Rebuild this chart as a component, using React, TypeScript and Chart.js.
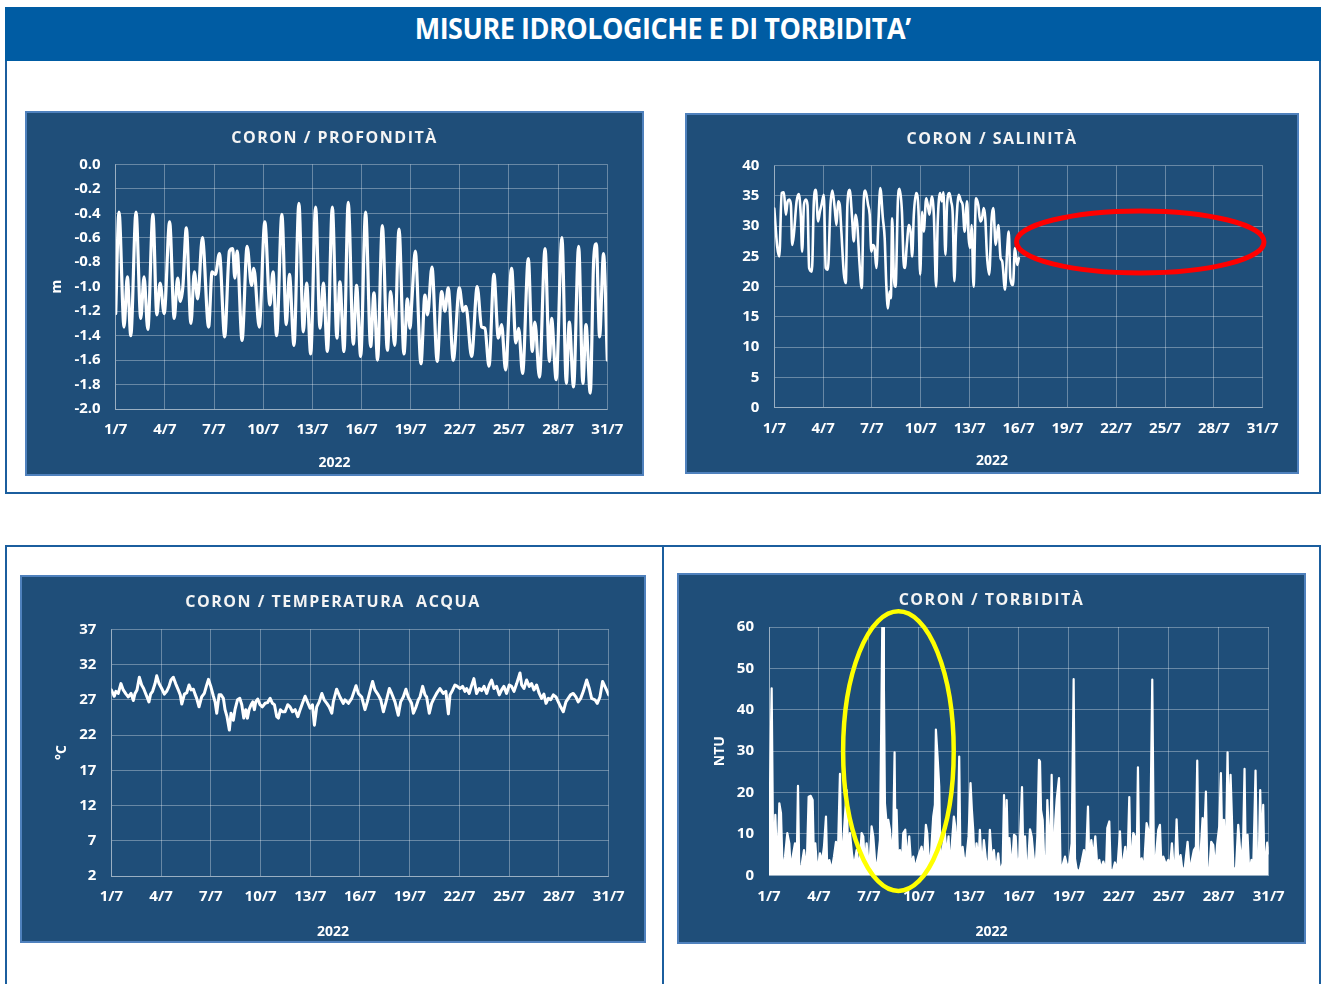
import React, { useEffect, useRef } from 'react';
import { Chart, registerables } from 'chart.js';

Chart.register(...registerables);

// ---------- shared axis data ----------
const xTickDays = [0, 3, 6, 9, 12, 15, 18, 21, 24, 27, 30];
const xTickLabels = ['1/7', '4/7', '7/7', '10/7', '13/7', '16/7', '19/7', '22/7', '25/7', '28/7', '31/7'];
const xAxisTitle = '2022';

const depthTicks = [-2.0, -1.8, -1.6, -1.4, -1.2, -1.0, -0.8, -0.6, -0.4, -0.2, 0.0];
const salinityTicks = [0, 5, 10, 15, 20, 25, 30, 35, 40];
const temperatureTicks = [2, 7, 12, 17, 22, 27, 32, 37];
const turbidityTicks = [0, 10, 20, 30, 40, 50, 60];

// ---------- CORON / PROFONDITÀ (m) ----------
const depthDays = [
  0, 0.2, 0.51, 0.71, 0.92, 1.24, 1.53, 1.73, 1.96, 2.27,
  2.51, 2.71, 2.96, 3.29, 3.57, 3.78, 3.94, 4.1, 4.31, 4.59,
  4.8, 5.0, 5.29, 5.67, 5.88, 6.08, 6.33, 6.65, 6.94, 7.14,
  7.27, 7.41, 7.71, 8.02, 8.29, 8.43, 8.76, 9.1, 9.41, 9.6,
  9.82, 10.14, 10.41, 10.6, 10.88, 11.18, 11.45, 11.65, 11.9, 12.2,
  12.47, 12.67, 12.92, 13.22, 13.5, 13.68, 13.93, 14.19, 14.5, 14.7,
  14.95, 15.25, 15.56, 15.76, 15.98, 16.27, 16.58, 16.78, 17.02, 17.29,
  17.59, 17.8, 17.96, 18.08, 18.28, 18.63, 18.87, 19.03, 19.3, 19.62,
  19.89, 20.09, 20.29, 20.6, 20.97, 21.2, 21.37, 21.72, 22.06, 22.33,
  22.53, 22.78, 23.08, 23.35, 23.55, 23.79, 24.16, 24.42, 24.59, 24.83,
  25.18, 25.42, 25.58, 25.86, 26.2, 26.47, 26.6, 26.88, 27.23, 27.5,
  27.68, 27.94, 28.25, 28.51, 28.7, 28.96, 29.17, 29.33, 29.53, 29.77, 30.0,
];
const depthValues = [
  -1.22, -0.39, -1.33, -0.92, -1.40, -0.39, -1.26, -0.92, -1.35, -0.41,
  -1.23, -0.97, -1.22, -0.47, -1.26, -0.93, -1.12, -1.0, -0.52, -1.30,
  -0.88, -1.10, -0.60, -1.33, -0.88, -0.90, -0.73, -1.41, -0.71, -0.69,
  -0.93, -0.71, -1.44, -0.67, -0.99, -0.85, -1.33, -0.47, -1.15, -0.88,
  -1.40, -0.41, -1.31, -0.90, -1.48, -0.32, -1.37, -0.97, -1.55, -0.35,
  -1.34, -0.97, -1.53, -0.35, -1.42, -0.96, -1.53, -0.31, -1.47, -0.99,
  -1.57, -0.39, -1.49, -1.05, -1.60, -0.50, -1.52, -1.04, -1.48, -0.53,
  -1.55, -1.10, -1.34, -1.10, -0.71, -1.63, -1.07, -1.23, -0.84, -1.61,
  -1.04, -1.20, -1.01, -1.60, -1.01, -1.20, -1.16, -1.57, -1.0, -1.33,
  -1.34, -1.65, -0.90, -1.42, -1.31, -1.68, -0.85, -1.46, -1.34, -1.71,
  -0.77, -1.53, -1.29, -1.74, -0.69, -1.61, -1.26, -1.76, -0.60, -1.79,
  -1.29, -1.82, -0.67, -1.79, -1.31, -1.87, -0.78, -0.65, -1.41, -0.73, -1.60,
];

// ---------- CORON / SALINITÀ ----------
const salinityDays = [
  0, 0.18, 0.31, 0.45, 0.59, 0.71, 0.82, 0.92, 1.02, 1.1,
  1.2, 1.37, 1.51, 1.63, 1.71, 1.82, 1.94, 2.04, 2.14, 2.31,
  2.43, 2.55, 2.69, 2.8, 2.9, 3.04, 3.16, 3.29, 3.45, 3.57,
  3.71, 3.82, 3.92, 4.02, 4.12, 4.27, 4.39, 4.49, 4.63, 4.78,
  4.88, 5.0, 5.1, 5.24, 5.37, 5.49, 5.59, 5.76, 5.86, 5.96,
  6.06, 6.16, 6.27, 6.39, 6.51, 6.67, 6.78, 6.88, 6.98, 7.08,
  7.16, 7.24, 7.35, 7.45, 7.59, 7.69, 7.84, 7.94, 8.02, 8.14,
  8.27, 8.37, 8.47, 8.57, 8.71, 8.86, 8.96, 9.08, 9.18, 9.33,
  9.43, 9.53, 9.67, 9.8, 9.94, 10.04, 10.18, 10.29, 10.39, 10.51,
  10.61, 10.76, 10.86, 10.96, 11.06, 11.16, 11.33, 11.47, 11.57, 11.69,
  11.84, 11.94, 12.04, 12.12, 12.24, 12.39, 12.53, 12.65, 12.76, 12.86,
  12.96, 13.06, 13.2, 13.35, 13.45, 13.6, 13.76, 13.9, 14.0, 14.17,
  14.31, 14.4, 14.5, 14.66, 14.78, 14.92, 15.02,
];
const salinityValues = [
  32.9, 26.6, 25.0, 35.5, 35.6, 31.9, 34.1, 34.4, 33.5, 26.9,
  28.6, 34.1, 35.3, 31.6, 25.8, 33.5, 34.4, 33.5, 23.1, 22.5,
  34.1, 36.0, 30.8, 32.4, 33.5, 35.2, 23.1, 22.8, 33.5, 35.9,
  33.0, 30.2, 34.1, 33.5, 29.1, 22.2, 20.6, 33.5, 36.0, 31.3,
  27.5, 31.9, 30.2, 23.6, 19.8, 34.1, 35.9, 33.5, 31.9, 25.8,
  26.9, 26.4, 23.1, 30.2, 36.3, 31.3, 28.0, 20.3, 16.4, 19.2,
  18.1, 31.3, 21.4, 20.0, 34.1, 36.2, 32.4, 24.2, 23.1, 26.9,
  30.2, 29.1, 25.0, 31.9, 35.5, 32.4, 22.0, 32.4, 29.1, 34.6,
  33.5, 31.9, 34.9, 31.9, 20.0, 30.8, 35.5, 34.1, 35.6, 25.3,
  33.5, 35.5, 34.1, 31.9, 20.9, 29.1, 35.2, 34.1, 33.5, 29.1,
  34.1, 28.0, 26.4, 30.2, 20.0, 34.6, 33.5, 30.8, 31.3, 33.0,
  31.3, 25.3, 22.0, 31.3, 33.0, 26.9, 30.2, 24.7, 24.2, 19.5,
  26.4, 29.1, 21.4, 20.3, 26.4, 23.6, 24.7,
];
// highlighted gap in salinity record (data units: day, PSU)
const salinityGapMark = { day: 22.48, value: 27.4, halfDays: 7.6, halfValue: 5.13 };

// ---------- CORON / TEMPERATURA ACQUA (°C) ----------
const temperatureDays = [
  0, 0.18, 0.28, 0.42, 0.58, 0.72, 0.89, 1.03, 1.19, 1.33,
  1.43, 1.55, 1.69, 1.83, 1.95, 2.07, 2.19, 2.27, 2.37, 2.49,
  2.64, 2.74, 2.88, 3.04, 3.2, 3.34, 3.48, 3.6, 3.74, 3.88,
  4.04, 4.16, 4.25, 4.41, 4.55, 4.69, 4.81, 4.95, 5.05, 5.15,
  5.29, 5.45, 5.61, 5.73, 5.86, 6.0, 6.16, 6.26, 6.36, 6.5,
  6.62, 6.76, 6.86, 6.98, 7.12, 7.22, 7.36, 7.46, 7.61, 7.75,
  7.87, 7.99, 8.11, 8.21, 8.31, 8.43, 8.53, 8.63, 8.71, 8.83,
  8.97, 9.11, 9.28, 9.42, 9.58, 9.72, 9.84, 9.98, 10.08, 10.2,
  10.32, 10.48, 10.64, 10.78, 10.93, 11.09, 11.25, 11.39, 11.53, 11.69,
  11.83, 11.99, 12.13, 12.25, 12.39, 12.54, 12.7, 12.84, 13.0, 13.14,
  13.3, 13.39, 13.59, 13.79, 13.99, 14.09, 14.3, 14.5, 14.76, 14.9,
  15.1, 15.3, 15.44, 15.6, 15.76, 15.9, 16.1, 16.25, 16.41, 16.57,
  16.77, 16.91, 17.11, 17.31, 17.45, 17.61, 17.77, 17.91, 18.11, 18.22,
  18.38, 18.52, 18.62, 18.78, 18.92, 19.02, 19.18, 19.32, 19.46, 19.62,
  19.82, 20.02, 20.18, 20.33, 20.43, 20.59, 20.73, 20.87, 21.03, 21.19,
  21.33, 21.43, 21.59, 21.73, 21.87, 22.03, 22.19, 22.34, 22.48, 22.64,
  22.8, 22.94, 23.08, 23.24, 23.4, 23.54, 23.68, 23.84, 24.0, 24.14,
  24.29, 24.45, 24.65, 24.75, 24.89, 25.05, 25.21, 25.35, 25.49, 25.65,
  25.81, 25.95, 26.09, 26.22, 26.36, 26.5, 26.66, 26.82, 26.96, 27.1,
  27.26, 27.42, 27.56, 27.7, 27.86, 28.02, 28.16, 28.31, 28.47, 28.67,
  28.83, 28.97, 29.17, 29.31, 29.47, 29.63, 29.77, 29.91, 30.0,
];
const temperatureValues = [
  28.4, 27.5, 28.2, 27.9, 29.3, 28.4, 27.8, 27.4, 27.9, 26.9,
  27.9, 28.4, 30.2, 29.1, 28.6, 27.9, 27.2, 26.7, 27.8, 28.2,
  29.3, 30.4, 29.3, 28.6, 27.8, 28.2, 28.9, 29.8, 30.2, 29.3,
  28.4, 27.7, 26.4, 27.8, 28.0, 29.1, 28.4, 28.5, 27.8, 27.2,
  26.0, 27.4, 27.9, 28.9, 29.9, 28.9, 27.5, 26.7, 25.1, 27.7,
  27.7, 27.2, 25.6, 24.6, 22.7, 25.1, 24.1, 25.6, 27.0, 27.2,
  26.3, 24.4, 25.6, 24.4, 25.6, 26.3, 26.7, 25.6, 26.7, 27.1,
  26.3, 26.0, 26.5, 26.6, 27.2, 26.5, 26.3, 24.6, 24.4, 25.6,
  25.3, 25.3, 26.3, 26.0, 25.3, 25.6, 24.6, 25.6, 26.5, 27.5,
  26.7, 25.8, 26.3, 23.4, 26.0, 26.7, 27.9, 27.0, 26.5, 26.0,
  25.1, 26.7, 28.5, 27.4, 26.5, 27.0, 26.5, 27.2, 29.0, 27.9,
  27.4, 25.6, 26.7, 28.2, 29.6, 28.4, 27.7, 27.0, 25.3, 26.7,
  28.6, 27.9, 26.7, 24.8, 26.7, 27.4, 28.5, 27.4, 26.5, 25.1,
  26.0, 27.0, 27.4, 28.9, 27.7, 27.4, 25.1, 26.5, 27.2, 27.9,
  28.6, 27.9, 28.2, 25.0, 27.7, 28.4, 29.1, 28.9, 28.6, 28.9,
  28.2, 28.6, 27.9, 29.0, 30.0, 27.9, 28.6, 28.3, 28.9, 27.9,
  29.1, 29.8, 28.6, 28.9, 27.7, 28.4, 28.9, 27.9, 29.1, 28.9,
  28.2, 29.3, 30.8, 29.1, 28.6, 29.8, 28.9, 29.3, 28.4, 29.1,
  27.9, 27.2, 27.8, 26.5, 27.2, 27.0, 27.7, 27.4, 26.7, 26.0,
  25.3, 26.7, 27.2, 27.7, 27.9, 27.4, 26.7, 27.2, 28.2, 29.8,
  28.6, 27.2, 27.0, 26.5, 27.4, 29.6, 28.9, 28.2, 27.7,
];

// ---------- CORON / TORBIDITÀ (NTU) ----------
const turbidityDays = [
  0, 0.16, 0.26, 0.38, 0.5, 0.62, 0.72, 0.82, 0.96, 1.1,
  1.22, 1.3, 1.42, 1.56, 1.66, 1.74, 1.82, 1.96, 2.1, 2.26,
  2.38, 2.5, 2.62, 2.7, 2.78, 2.9, 3.06, 3.18, 3.3, 3.42,
  3.5, 3.62, 3.76, 3.9, 4.02, 4.12, 4.26, 4.36, 4.46, 4.66,
  4.76, 4.86, 4.98, 5.1, 5.26, 5.42, 5.56, 5.66, 5.76, 5.86,
  6.02, 6.16, 6.26, 6.36, 6.46, 6.56, 6.66, 6.74, 6.8, 6.86,
  6.9, 6.96, 7.06, 7.16, 7.26, 7.36, 7.46, 7.54, 7.6, 7.66,
  7.74, 7.86, 7.98, 8.06, 8.18, 8.3, 8.42, 8.54, 8.66, 8.78,
  8.9, 9.02, 9.16, 9.3, 9.42, 9.5, 9.62, 9.74, 9.86, 9.96,
  10.02, 10.12, 10.22, 10.3, 10.42, 10.56, 10.66, 10.78, 10.86, 10.98,
  11.1, 11.18, 11.3, 11.42, 11.5, 11.62, 11.74, 11.86, 11.98, 12.1,
  12.18, 12.26, 12.36, 12.46, 12.58, 12.66, 12.78, 12.9, 13.02, 13.16,
  13.26, 13.38, 13.5, 13.62, 13.76, 13.87, 14.03, 14.11, 14.19, 14.27,
  14.37, 14.43, 14.57, 14.71, 14.81, 14.91, 15.03, 15.19, 15.27, 15.37,
  15.47, 15.57, 15.67, 15.77, 15.87, 15.99, 16.11, 16.21, 16.27, 16.33,
  16.43, 16.51, 16.63, 16.71, 16.79, 16.87, 16.97, 17.07, 17.19, 17.27,
  17.41, 17.51, 17.63, 17.77, 17.91, 18.03, 18.17, 18.29, 18.37, 18.47,
  18.63, 18.77, 18.91, 19.01, 19.15, 19.23, 19.35, 19.47, 19.59, 19.71,
  19.83, 19.93, 20.07, 20.23, 20.31, 20.43, 20.51, 20.63, 20.77, 20.91,
  21.07, 21.17, 21.27, 21.39, 21.51, 21.63, 21.71, 21.87, 21.97, 22.07,
  22.15, 22.23, 22.37, 22.51, 22.67, 22.77, 22.87, 23.01, 23.11, 23.23,
  23.37, 23.47, 23.57, 23.67, 23.83, 23.97, 24.07, 24.19, 24.27, 24.37,
  24.47, 24.57, 24.71, 24.83, 24.97, 25.13, 25.27, 25.39, 25.51, 25.63,
  25.71, 25.79, 25.91, 26.03, 26.13, 26.23, 26.31, 26.43, 26.55, 26.67,
  26.79, 26.91, 27.03, 27.13, 27.21, 27.31, 27.41, 27.53, 27.61, 27.71,
  27.79, 27.87, 28.03, 28.17, 28.27, 28.37, 28.47, 28.55, 28.63, 28.73,
  28.83, 28.97, 29.07, 29.21, 29.29, 29.39, 29.49, 29.57, 29.67, 29.75,
  29.83, 29.91, 30.0,
];
const turbidityValues = [
  6.1, 45.2, 0.5, 14.6, 1.5, 17.4, 15.0, 0.8, 4.5, 10.2,
  7.7, 1.5, 4.5, 7.7, 1.8, 21.6, 0.6, 2.5, 6.1, 1.2,
  19.0, 19.2, 18.2, 3.0, 7.7, 0.8, 5.3, 3.2, 6.9, 14.2,
  0.8, 3.7, 1.2, 4.5, 8.1, 2.5, 24.5, 1.0, 8.1, 20.6,
  3.0, 10.2, 5.3, 2.0, 6.1, 1.5, 10.2, 9.4, 2.5, 7.7,
  1.2, 11.8, 9.4, 4.0, 0.8, 4.5, 8.5, 36.8, 60, 60,
  44.8, 17.4, 12.6, 13.4, 11.0, 4.5, 10.2, 29.7, 3.7, 15.8,
  4.5, 6.1, 2.9, 10.2, 11.0, 3.0, 9.4, 2.0, 4.5, 1.5,
  3.7, 5.3, 6.9, 3.0, 12.2, 10.2, 1.5, 6.1, 14.2, 17.0,
  35.2, 28.7, 21.5, 2.0, 6.1, 10.2, 4.5, 9.4, 1.5, 7.7,
  14.2, 11.8, 3.5, 28.7, 1.0, 6.9, 3.0, 4.5, 9.4, 22.3,
  15.8, 11.0, 1.5, 7.7, 3.0, 11.0, 0.8, 8.5, 4.0, 1.2,
  11.0, 3.5, 6.1, 1.0, 5.3, 0.8, 2.9, 19.4, 3.0, 18.2,
  1.0, 9.0, 1.2, 9.8, 9.4, 1.5, 4.5, 21.3, 4.0, 9.4,
  0.8, 3.7, 11.1, 9.4, 5.0, 0.8, 9.4, 27.9, 27.5, 15.8,
  13.4, 5.0, 0.8, 18.2, 11.0, 4.0, 24.3, 1.0, 13.4, 18.2,
  23.5, 0.5, 2.5, 4.5, 2.0, 2.9, 7.7, 47.4, 4.0, 1.5,
  0.8, 3.3, 6.1, 1.2, 16.6, 3.0, 8.5, 4.0, 9.4, 2.0,
  3.7, 1.5, 3.3, 1.0, 11.4, 13.0, 1.5, 0.8, 3.1, 1.2,
  10.6, 1.0, 3.7, 6.9, 0.8, 18.9, 1.0, 10.2, 9.4, 2.0,
  26.1, 3.0, 4.1, 1.5, 12.6, 11.0, 3.5, 47.3, 2.5, 4.5,
  11.0, 12.2, 0.8, 4.5, 2.5, 3.7, 1.5, 7.7, 3.0, 0.8,
  13.5, 3.0, 4.9, 0.8, 2.1, 8.1, 0.8, 3.7, 6.1, 6.9,
  27.7, 3.5, 5.3, 13.8, 9.4, 20.2, 2.0, 1.0, 8.1, 7.3,
  1.5, 7.7, 11.8, 24.7, 7.7, 13.4, 1.0, 29.7, 9.4, 24.3,
  14.2, 2.0, 1.0, 12.2, 6.9, 2.5, 9.4, 25.7, 1.0, 9.8,
  0.8, 3.7, 1.5, 25.3, 4.5, 1.0, 20.6, 5.3, 17.0, 0.8,
  4.5, 7.9, 5.3,
];
// highlighted turbidity event (data units: day, NTU)
const turbidityEventMark = { day: 7.77, value: 30.0, halfDays: 3.32, halfValue: 33.8 };

// ---------- styling ----------
const FONT = '"Open Sans", "DejaVu Sans", sans-serif';
const PANEL_BG = '#1f4e79';
const PANEL_EDGE = '#4f81bd';
const GRID = 'rgba(255,255,255,0.33)';
const TEXT = '#ffffff';
const FRAME = '#1b5e9e';

const ellipsePlugin = {
  id: 'ellipseMark',
  afterDatasetsDraw(chart: any, _args: any, opts: any) {
    if (!opts || opts.mark == null) return;
    const m = opts.mark;
    const xs = chart.scales.x;
    const ys = chart.scales.y;
    const cx = xs.getPixelForValue(m.day);
    const cy = ys.getPixelForValue(m.value);
    const rx = Math.abs(xs.getPixelForValue(m.day + m.halfDays) - cx);
    const ry = Math.abs(ys.getPixelForValue(m.value + m.halfValue) - cy);
    const ctx = chart.ctx;
    ctx.save();
    ctx.beginPath();
    ctx.ellipse(cx, cy, rx, ry, 0, 0, Math.PI * 2);
    ctx.strokeStyle = opts.color;
    ctx.lineWidth = opts.width;
    ctx.stroke();
    ctx.restore();
  },
};

type Spec = {
  left: number; top: number; width: number; height: number;
  title: string; titleY: number; xTitleY: number;
  plot: { left: number; right: number; top: number; bottom: number };
  days: number[]; values: number[];
  yTicks: number[]; yMin: number; yMax: number; yFmt: (v: number) => string;
  yTitle?: string; yTitleX?: number;
  lineWidth: number; smooth: boolean; fill?: boolean;
  mark?: any; markColor?: string; markWidth?: number;
};

function buildConfig(s: Spec): any {
  const tickFont = { family: FONT, size: 15, weight: 'bold' as const };
  const titleFont = { family: FONT, size: 14, weight: 'bold' as const };
  const half = (14 * 1.2) / 2;
  return {
    type: 'line',
    data: {
      datasets: [
        {
          data: s.days.map((d, i) => ({ x: d, y: s.values[i] })),
          borderColor: '#ffffff',
          backgroundColor: '#ffffff',
          borderWidth: s.lineWidth,
          pointRadius: 0,
          fill: s.fill ? 'origin' : false,
          tension: 0,
          cubicInterpolationMode: s.smooth ? 'monotone' : 'default',
          borderJoinStyle: 'round',
          borderCapStyle: 'round',
        },
      ],
    },
    options: {
      responsive: false,
      animation: false,
      events: [],
      layout: { padding: { left: 0, right: s.plot.right, top: s.plot.top, bottom: 0 } },
      plugins: {
        legend: { display: false },
        tooltip: { enabled: false },
        title: { display: false },
        filler: { propagate: false },
        ellipseMark: s.mark ? { mark: s.mark, color: s.markColor, width: s.markWidth } : { mark: null },
      },
      scales: {
        x: {
          type: 'linear',
          min: 0,
          max: 30,
          afterBuildTicks: (axis: any) => {
            axis.ticks = xTickDays.map((v) => ({ value: v }));
          },
          afterFit: (axis: any) => {
            axis.height = s.plot.bottom;
          },
          ticks: {
            autoSkip: false,
            maxRotation: 0,
            minRotation: 0,
            padding: 12,
            color: TEXT,
            font: tickFont,
            callback: (_v: any, i: number) => xTickLabels[i],
          },
          grid: { color: GRID, lineWidth: 1, drawTicks: false },
          border: { color: GRID },
          title: { display: false },
        },
        y: {
          type: 'linear',
          min: s.yMin,
          max: s.yMax,
          afterBuildTicks: (axis: any) => {
            axis.ticks = s.yTicks.map((v) => ({ value: v }));
          },
          afterFit: (axis: any) => {
            axis.width = s.plot.left;
          },
          ticks: {
            padding: 15,
            color: TEXT,
            font: tickFont,
            callback: (v: any) => s.yFmt(Number(v)),
          },
          grid: { color: GRID, lineWidth: 1, drawTicks: false },
          border: { color: GRID },
          title: s.yTitle
            ? {
                display: true,
                text: s.yTitle,
                color: TEXT,
                font: titleFont,
                padding: { top: (s.yTitleX || 30) - half, bottom: 0 },
              }
            : { display: false },
        },
      },
    },
    plugins: [ellipsePlugin],
  };
}

function ChartPanel({ spec }: { spec: Spec }) {
  const ref = useRef<HTMLCanvasElement>(null);
  useEffect(() => {
    if (!ref.current) return;
    const chart = new Chart(ref.current, buildConfig(spec));
    return () => chart.destroy();
  }, [spec]);
  return (
    <div
      style={{
        position: 'absolute',
        left: spec.left,
        top: spec.top,
        width: spec.width,
        height: spec.height,
        background: PANEL_BG,
        boxShadow: `inset 0 0 0 2px ${PANEL_EDGE}`,
      }}
    >
      <canvas
        ref={ref}
        width={spec.width}
        height={spec.height}
        style={{ position: 'absolute', left: 0, top: 0, width: spec.width, height: spec.height }}
      />
      <div
        style={{
          position: 'absolute',
          left: 0,
          width: spec.width,
          top: spec.titleY - 12,
          height: 24,
          lineHeight: '24px',
          textAlign: 'center',
          color: '#f4f4f4',
          fontFamily: FONT,
          fontWeight: 700,
          fontSize: 16,
          letterSpacing: '1.5px',
          whiteSpace: 'pre',
        }}
      >
        {spec.title}
      </div>
      <div
        style={{
          position: 'absolute',
          left: 0,
          width: spec.width,
          top: spec.xTitleY - 10,
          height: 20,
          lineHeight: '20px',
          textAlign: 'center',
          color: TEXT,
          fontFamily: FONT,
          fontWeight: 700,
          fontSize: 14,
        }}
      >
        {xAxisTitle}
      </div>
    </div>
  );
}

const specs: Spec[] = [
  {
    left: 25, top: 111, width: 619, height: 365,
    title: 'CORON / PROFONDITÀ', titleY: 26, xTitleY: 351,
    plot: { left: 90.7, right: 36.7, top: 53.3, bottom: 67 },
    days: depthDays, values: depthValues,
    yTicks: depthTicks, yMin: -2, yMax: 0, yFmt: (v) => (Math.abs(v) < 1e-9 ? '0.0' : v.toFixed(1)),
    yTitle: 'm', yTitleX: 32,
    lineWidth: 3.2, smooth: true,
  },
  {
    left: 685, top: 113, width: 614, height: 361,
    title: 'CORON / SALINITÀ', titleY: 25, xTitleY: 347,
    plot: { left: 89.3, right: 36.3, top: 52.7, bottom: 66.3 },
    days: salinityDays, values: salinityValues,
    yTicks: salinityTicks, yMin: 0, yMax: 40, yFmt: (v) => String(v),
    lineWidth: 2.6, smooth: true,
    mark: salinityGapMark, markColor: '#ff0000', markWidth: 5,
  },
  {
    left: 20, top: 575, width: 626, height: 368,
    title: 'CORON / TEMPERATURA  ACQUA', titleY: 26, xTitleY: 356,
    plot: { left: 91.3, right: 37.3, top: 54.3, bottom: 67 },
    days: temperatureDays, values: temperatureValues,
    yTicks: temperatureTicks, yMin: 2, yMax: 37, yFmt: (v) => String(v),
    yTitle: '°C', yTitleX: 42,
    lineWidth: 3, smooth: false,
  },
  {
    left: 677, top: 573, width: 629, height: 371,
    title: 'CORON / TORBIDITÀ', titleY: 26, xTitleY: 358,
    plot: { left: 92, right: 37.3, top: 54, bottom: 68.7 },
    days: turbidityDays, values: turbidityValues,
    yTicks: turbidityTicks, yMin: 0, yMax: 60, yFmt: (v) => String(v),
    yTitle: 'NTU', yTitleX: 43,
    lineWidth: 2.2, smooth: false, fill: true,
    mark: turbidityEventMark, markColor: '#ffff00', markWidth: 4.5,
  },
];

export default function App() {
  return (
    <div
      style={{
        position: 'absolute',
        left: 0,
        top: 0,
        width: 1325,
        height: 984,
        overflow: 'hidden',
        background: '#ffffff',
        fontFamily: FONT,
      }}
    >
      {/* upper frame */}
      <div
        style={{
          position: 'absolute', left: 5, top: 7, width: 1316, height: 487,
          border: `2px solid ${FRAME}`, boxSizing: 'border-box',
        }}
      />
      {/* header band */}
      <div
        style={{
          position: 'absolute', left: 5, top: 7, width: 1316, height: 54,
          background: '#005ca3',
        }}
      >
        <div
          style={{
            position: 'absolute', left: 0, top: 5, width: 1316, height: 32,
            display: 'flex', justifyContent: 'center', alignItems: 'center',
          }}
        >
          <span
            style={{
              display: 'inline-block',
              color: '#ffffff',
              fontFamily: '"Open Sans", sans-serif',
              fontWeight: 700,
              fontSize: 29,
              lineHeight: '32px',
              whiteSpace: 'nowrap',
              transform: 'scaleX(0.93)',
              letterSpacing: '-0.5px',
            }}
          >
            MISURE IDROLOGICHE E DI TORBIDITA’
          </span>
        </div>
      </div>
      {/* lower frame */}
      <div
        style={{
          position: 'absolute', left: 5, top: 545, width: 1316, height: 460,
          border: `2px solid ${FRAME}`, boxSizing: 'border-box',
        }}
      />
      <div style={{ position: 'absolute', left: 662, top: 545, width: 2, height: 450, background: FRAME }} />
      {specs.map((s, i) => (
        <ChartPanel key={i} spec={s} />
      ))}
    </div>
  );
}
